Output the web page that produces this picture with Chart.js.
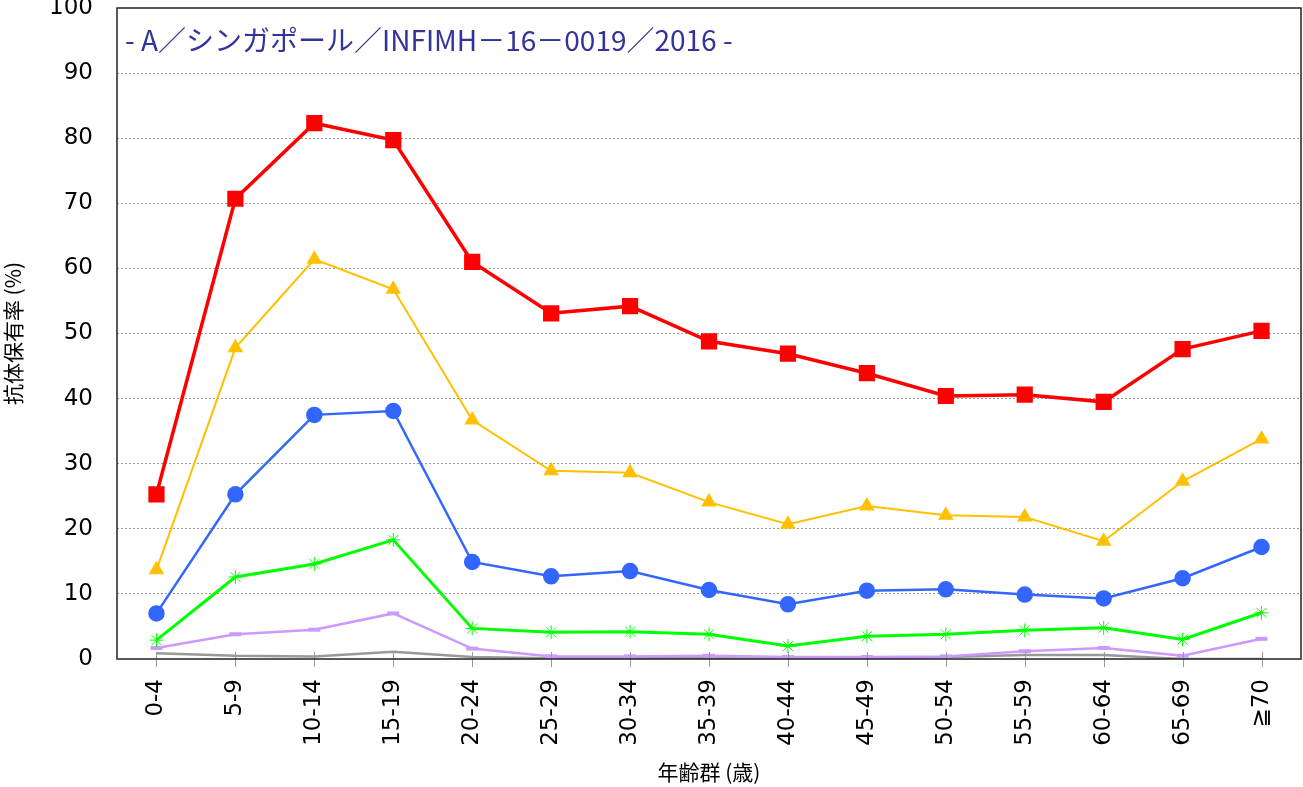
<!DOCTYPE html>
<html>
<head>
<meta charset="utf-8">
<script src="https://cdn.jsdelivr.net/npm/chart.js@4.4.0/dist/chart.umd.min.js"></script>
<style>
  html, body { margin: 0; padding: 0; background: #fff; }
  #wrap { width: 1303px; height: 787px; }
</style>
</head>
<body>
<div id="wrap"><canvas id="antibodyChart"></canvas></div>
<script>
// =====> data <=====
const ageGroups = ["0-4", "5-9", "10-14", "15-19", "20-24", "25-29", "30-34", "35-39",
  "40-44", "45-49", "50-54", "55-59", "60-64", "65-69", "≧70"];

const redValues = [25.3, 70.7, 82.3, 79.7, 61.0, 53.1, 54.2, 48.8, 46.9, 43.9, 40.4, 40.6, 39.5, 47.6, 50.4];
const yellowValues = [13.7, 47.8, 61.4, 56.8, 36.7, 28.9, 28.6, 24.1, 20.7, 23.5, 22.1, 21.8, 18.1, 27.3, 33.8];
const blueValues = [7.0, 25.3, 37.5, 38.1, 14.9, 12.7, 13.5, 10.6, 8.4, 10.5, 10.7, 9.9, 9.3, 12.4, 17.2];
const greenValues = [2.9, 12.6, 14.6, 18.3, 4.7, 4.1, 4.2, 3.8, 2.0, 3.5, 3.8, 4.4, 4.8, 3.0, 7.1];
const purpleValues = [1.7, 3.8, 4.5, 7.0, 1.6, 0.4, 0.4, 0.5, 0.3, 0.3, 0.4, 1.2, 1.7, 0.5, 3.1];
const grayValues = [0.9, 0.5, 0.4, 1.1, 0.3, 0.1, 0.2, 0.1, 0.0, 0.0, 0.3, 0.6, 0.6, 0.0, 0.0];

const yTicks = [0, 10, 20, 30, 40, 50, 60, 70, 80, 90, 100];

const chartTitle = "- A／シンガポール／INFIMH－16－0019／2016 -";
const yTitle = "抗体保有率 (%)";
const xTitle = "年齢群 (歳)";

const tickFont = "'DejaVu Sans', Verdana, sans-serif";
const cjkFont = "'Noto Sans CJK JP', sans-serif";

// frame, crossing tick marks and the inner title
const framePlugin = {
  id: "framePlugin",
  afterDraw(chart) {
    const { ctx, chartArea: a, scales } = chart;
    const xs = scales.x;
    ctx.save();
    ctx.strokeStyle = "#999";
    ctx.lineWidth = 1;
    ageGroups.forEach((_, i) => {
      const px = Math.round(xs.getPixelForTick(i)) + 0.5;
      ctx.beginPath();
      ctx.moveTo(px, a.bottom - 7);
      ctx.lineTo(px, a.bottom + 8);
      ctx.stroke();
    });
    ctx.strokeStyle = "#222";
    ctx.lineWidth = 1.5;
    ctx.strokeRect(a.left, a.top, a.right - a.left, a.bottom - a.top);
    ctx.fillStyle = "#333399";
    ctx.font = "28px " + cjkFont;
    ctx.textBaseline = "middle";
    ctx.textAlign = "left";
    ctx.fillText(chartTitle, a.left + 8, a.top + 32);
    ctx.restore();
  },
};

function lineSet(label, data, color, style, radius, width) {
  return {
    label: label,
    data: data,
    borderColor: color,
    backgroundColor: color,
    pointBackgroundColor: color,
    pointBorderColor: color,
    pointStyle: style,
    pointRadius: radius,
    pointHoverRadius: radius,
    borderWidth: width,
    tension: 0,
  };
}

const datasets = [
  lineSet("red", redValues, "#FF0000", "rect", 9, 3.5),
  lineSet("yellow", yellowValues, "#FFC000", "triangle", 7, 2),
  lineSet("blue", blueValues, "#3366FF", "circle", 7, 2.5),
  Object.assign(lineSet("green", greenValues, "#00FF00", "star", 7, 3), { pointBorderWidth: 1 }),
  Object.assign(lineSet("purple", purpleValues, "#CC99FF", "line", 6, 2.5), { pointBorderWidth: 4 }),
  lineSet("gray", grayValues, "#999999", "circle", 0, 2.5),
];

new Chart("antibodyChart", {
  type: "line",
  data: { labels: ageGroups, datasets: datasets },
  plugins: [framePlugin],
  options: {
    responsive: true,
    maintainAspectRatio: false,
    animation: false,
    layout: { autoPadding: false, padding: { top: 8, right: 2, left: 0, bottom: 0 } },
    plugins: {
      legend: { display: false },
      tooltip: { enabled: false },
    },
    scales: {
      x: {
        offset: true,
        grid: { display: false },
        border: { display: false },
        ticks: {
          autoSkip: false,
          minRotation: 90,
          maxRotation: 90,
          padding: 12,
          color: "#000",
          font: { family: tickFont, size: 23 },
        },
        title: {
          display: true,
          text: xTitle,
          color: "#000",
          font: { family: cjkFont, size: 21 },
          padding: { top: 0, bottom: 2 },
        },
        afterFit(scale) {
          scale.height = 128;
          scale.paddingLeft = 0;
          scale.paddingRight = 0;
        },
      },
      y: {
        min: 0,
        max: 100,
        afterBuildTicks(scale) {
          scale.ticks = yTicks.map((v) => ({ value: v }));
        },
        grid: {
          color: (c) => (c.tick && (c.tick.value === 0 || c.tick.value === 100) ? "rgba(0,0,0,0)" : "#999"),
          lineWidth: 1,
          drawTicks: false,
        },
        border: { display: false, dash: [2, 2] },
        ticks: {
          padding: 24,
          color: "#000",
          font: { family: tickFont, size: 23 },
        },
        title: {
          display: true,
          text: yTitle,
          color: "#000",
          font: { family: cjkFont, size: 21 },
          padding: { top: 0, bottom: 15 },
        },
        afterFit(scale) {
          scale.width = 117;
          scale.paddingTop = 0;
          scale.paddingBottom = 0;
        },
      },
    },
  },
});
</script>
</body>
</html>
